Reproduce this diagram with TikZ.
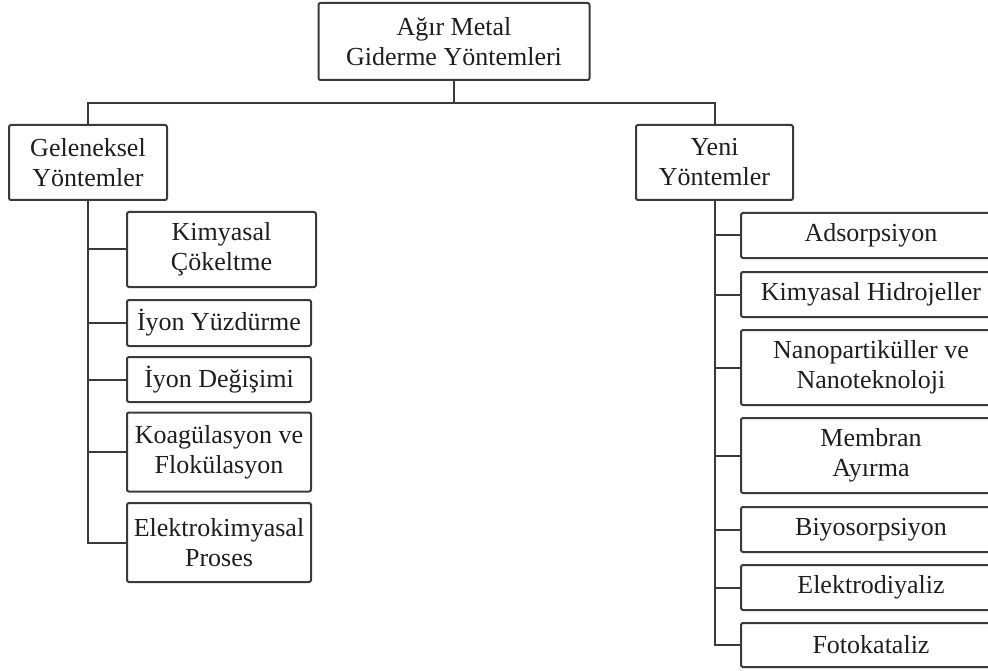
\documentclass[tikz,border=0pt]{standalone}
\usepackage{fontspec}
\setmainfont{Liberation Serif}
\usetikzlibrary{positioning}
\definecolor{edgegray}{HTML}{3A3A3A}
\definecolor{inkgray}{HTML}{1E1E1E}

\begin{document}
\begin{tikzpicture}[x=1pt, y=-1pt,
        box/.style={draw=edgegray, line width=2pt, rounded corners=2pt, align=center,
                    inner sep=0pt, text=inkgray, font=\fontsize{26}{30}\selectfont},
        leaf/.style={box, anchor=west},
        link/.style={draw=edgegray, line width=2pt},
      ]
        \clip (0,0) rectangle (988,671);
        \node[box, minimum width=271pt, minimum height=77pt] (root) at (454, 41.5) {Ağır Metal\\Giderme Yöntemleri};
        \node[box, minimum width=158pt, minimum height=75pt] (gel) at (88, 162.5) {Geleneksel\\Yöntemler};
        \node[box, minimum width=157pt, minimum height=75pt] (yeni) at (714.5, 162.5) {Yeni\\Yöntemler};

        \node[leaf, minimum width=189pt, minimum height=75pt] (kc) at (126, 249.5) {Kimyasal\\Çökeltme};
        \node[leaf, minimum width=184pt, minimum height=46pt] (iy) at (126, 323.0) {İyon Yüzdürme};
        \node[leaf, minimum width=184pt, minimum height=45pt] (id) at (126, 379.5) {İyon Değişimi};
        \node[leaf, minimum width=184pt, minimum height=79pt] (ko) at (126, 452.0) {Koagülasyon ve\\Flokülasyon};
        \node[leaf, minimum width=184pt, minimum height=79pt] (ek) at (126, 542.5) {Elektrokimyasal\\Proses};

        \node[leaf, minimum width=260pt, minimum height=45pt] (ad) at (740, 235.5) {Adsorpsiyon};
        \node[leaf, minimum width=260pt, minimum height=45pt] (kh) at (740, 294.5) {Kimyasal Hidrojeller};
        \node[leaf, minimum width=260pt, minimum height=75pt] (np) at (740, 367.5) {Nanopartiküller ve\\Nanoteknoloji};
        \node[leaf, minimum width=260pt, minimum height=75pt] (mb) at (740, 455.5) {Membran\\Ayırma};
        \node[leaf, minimum width=260pt, minimum height=45pt] (bs) at (740, 529.5) {Biyosorpsiyon};
        \node[leaf, minimum width=260pt, minimum height=45pt] (ed) at (740, 587.5) {Elektrodiyaliz};
        \node[leaf, minimum width=260pt, minimum height=44pt] (fk) at (740, 645.0) {Fotokataliz};

        \coordinate (bus) at (0, 103);
        \draw[link] (root.south) -- (root.south |- bus);
        \draw[link] (gel.north) |- (bus -| yeni.north) -- (yeni.north);

        \draw[link] (gel.south) |- (ek.west);
        \foreach \n in {kc,iy,id,ko}
          \draw[link] (gel.south |- \n.west) -- (\n.west);

        \draw[link] (yeni.south) |- (fk.west);
        \foreach \n in {ad,kh,np,mb,bs,ed}
          \draw[link] (yeni.south |- \n.west) -- (\n.west);
      \end{tikzpicture}
\end{document}
